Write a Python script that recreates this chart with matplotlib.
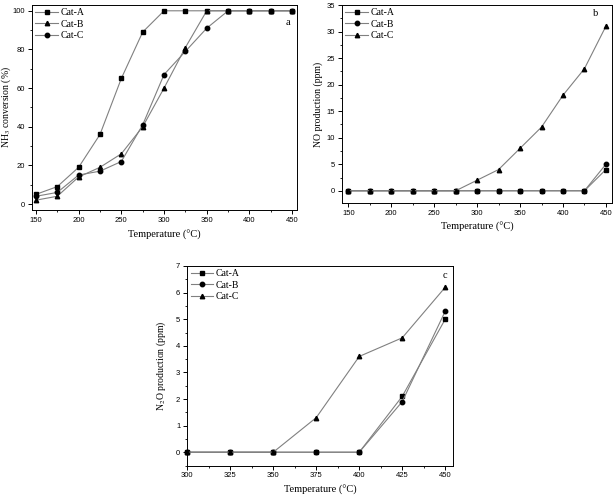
import numpy as np
import matplotlib
matplotlib.use('Agg')
import matplotlib.pyplot as plt
from matplotlib.ticker import MultipleLocator

# panel a: NH3 conversion
temps_a = [150, 175, 200, 225, 250, 275, 300, 325, 350, 375, 400, 425, 450]
nh3_cat_a = [5, 9, 19, 36, 65, 89, 100, 100, 100, 100, 100, 100, 100]
nh3_cat_b = [2, 4, 14, 19, 26, 40, 60, 81, 100, 100, 100, 100, 100]
nh3_cat_c = [4, 6, 15, 17, 22, 41, 67, 79, 91, 100, 100, 100, 100]

# panel b: NO production
temps_b = temps_a
no_cat_a = [0, 0, 0, 0, 0, 0, 0, 0, 0, 0, 0, 0, 4]
no_cat_b = [0, 0, 0, 0, 0, 0, 0, 0, 0, 0, 0, 0, 5]
no_cat_c = [0, 0, 0, 0, 0, 0, 2, 4, 8, 12, 18, 23, 31]

# panel c: N2O production
temps_c = [300, 325, 350, 375, 400, 425, 450]
n2o_cat_a = [0, 0, 0, 0, 0, 2.1, 5.0]
n2o_cat_b = [0, 0, 0, 0, 0, 1.9, 5.3]
n2o_cat_c = [0, 0, 0, 1.3, 3.6, 4.3, 6.2]

SERIF = 'Liberation Serif'
SANS = 'Liberation Sans'
LINE = '#808080'

plt.rcParams['mathtext.fontset'] = 'stix'


def style(ax, xmaj, xmin, ymaj, ymin):
    ax.xaxis.set_major_locator(MultipleLocator(xmaj))
    ax.xaxis.set_minor_locator(MultipleLocator(xmin))
    ax.yaxis.set_major_locator(MultipleLocator(ymaj))
    ax.yaxis.set_minor_locator(MultipleLocator(ymin))
    ax.tick_params(which='major', direction='out', length=3, width=0.7,
                   labelsize=5.5, pad=2)
    ax.tick_params(which='minor', direction='out', length=1.7, width=0.6)
    for lab in ax.get_xticklabels() + ax.get_yticklabels():
        lab.set_family(SANS)
    for s in ax.spines.values():
        s.set_linewidth(0.7)
    ax.set_xlabel('Temperature (\u00b0C)', family=SERIF, fontsize=7.5, labelpad=4)


def series(ax, x, y, marker, label):
    ax.plot(x, y, color=LINE, lw=0.8, marker=marker, ms=3.2,
            mfc='black', mec='black', label=label, clip_on=False, zorder=3)


def legend(ax):
    ax.legend(loc='upper left', frameon=False, prop={'family': SERIF, 'size': 7},
              handlelength=2.3, borderaxespad=0.15, borderpad=0.2,
              labelspacing=0.25, handletextpad=0.3)


def letter(ax, x, y, s):
    ax.text(x, y, s, transform=ax.transAxes, family=SERIF, fontsize=7.5,
            ha='center', va='center')


fig = plt.figure(figsize=(6.14, 5.0), dpi=100)

ax1 = fig.add_axes([0.052, 0.58, 0.432, 0.41])
series(ax1, temps_a, nh3_cat_a, 's', 'Cat-A')
series(ax1, temps_a, nh3_cat_b, '^', 'Cat-B')
series(ax1, temps_a, nh3_cat_c, 'o', 'Cat-C')
ax1.set_xlim(145.3, 455.9)
ax1.set_ylim(-3.1, 103)
style(ax1, 50, 25, 20, 10)
ax1.set_ylabel('NH$_3$ conversion (%)', family=SERIF, fontsize=7)
ax1.yaxis.set_label_coords(-0.072, 0.5)
legend(ax1)
letter(ax1, 0.966, 0.917, 'a')

ax2 = fig.add_axes([0.557, 0.594, 0.44, 0.396])
series(ax2, temps_b, no_cat_a, 's', 'Cat-A')
series(ax2, temps_b, no_cat_b, 'o', 'Cat-B')
series(ax2, temps_b, no_cat_c, '^', 'Cat-C')
ax2.set_xlim(142.6, 457.3)
ax2.set_ylim(-2.3, 35)
style(ax2, 50, 25, 5, 2.5)
ax2.set_ylabel('NO production (ppm)', family=SERIF, fontsize=7)
ax2.yaxis.set_label_coords(-0.070, 0.5)
legend(ax2)
letter(ax2, 0.94, 0.955, 'b')

ax3 = fig.add_axes([0.305, 0.069, 0.433, 0.399])
series(ax3, temps_c, n2o_cat_a, 's', 'Cat-A')
series(ax3, temps_c, n2o_cat_b, 'o', 'Cat-B')
series(ax3, temps_c, n2o_cat_c, '^', 'Cat-C')
ax3.set_xlim(300, 454.6)
ax3.set_ylim(-0.5, 7)
style(ax3, 25, 12.5, 1, 0.5)
ax3.set_ylabel('N$_2$O production (ppm)', family=SERIF, fontsize=7)
ax3.yaxis.set_label_coords(-0.071, 0.5)
legend(ax3)
letter(ax3, 0.97, 0.95, 'c')

fig.savefig('out.png', dpi=100)
